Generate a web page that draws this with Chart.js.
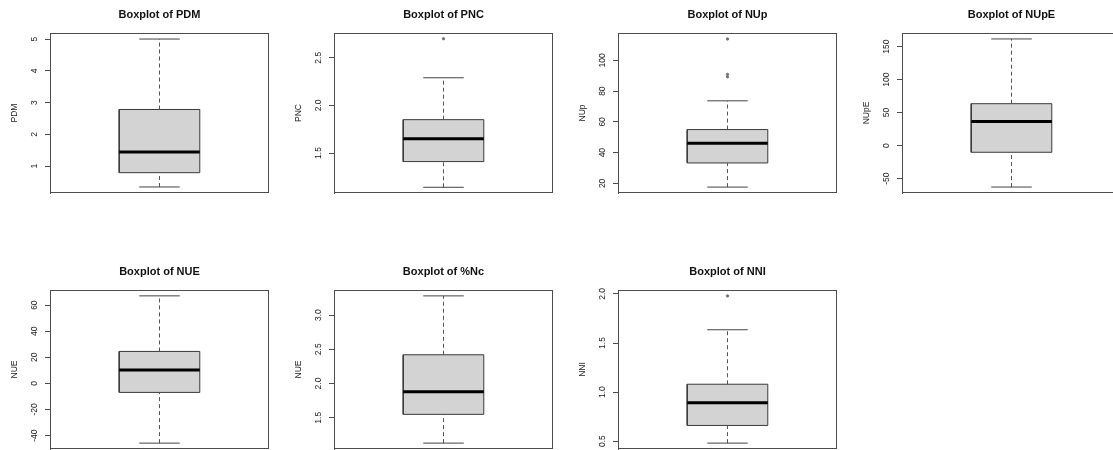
<!DOCTYPE html>
<html lang="en">
<head>
<meta charset="UTF-8" />
<title>Boxplots</title>
<script src="https://cdn.jsdelivr.net/npm/chart.js"></script>
<style>
  html, body { margin: 0; padding: 0; background: #fff; overflow: hidden; }
  body { width: 1113px; height: 450px; position: relative; }
  canvas { position: absolute; }
</style>
</head>
<body>
<script>
// values
const names = ["PDM", "PNC", "NUp", "NUpE", "NUE", "%Nc", "NNI"];
const yTitles = ["PDM", "PNC", "NUp", "NUpE", "NUE", "NUE", "NNI"];
const lowWhisker = [0.34, 1.14, 17.6, -62.8, -45.8, 1.13, 0.48];
const q1 = [0.79, 1.41, 33.3, -10.1, -6.9, 1.55, 0.66];
const median = [1.44, 1.65, 46.1, 36.5, 10.2, 1.88, 0.89];
const q3 = [2.78, 1.85, 55.0, 63.5, 24.5, 2.42, 1.08];
const highWhisker = [5.0, 2.29, 73.7, 161.6, 67.1, 3.28, 1.635];
const outliers = [[], [2.70], [113.9, 90.9, 89.3], [], [], [], [1.98]];
const yMin = [0.15, 1.08, 13.75, -71.8, -50.3, 1.044, 0.42];
const yMax = [5.19, 2.76, 117.8, 170.6, 71.6, 3.366, 2.04];
const tickValues = [
  [1, 2, 3, 4, 5],
  [1.5, 2.0, 2.5],
  [20, 40, 60, 80, 100],
  [-50, 0, 50, 100, 150],
  [-40, -20, 0, 20, 40, 60],
  [1.5, 2.0, 2.5, 3.0],
  [0.5, 1.0, 1.5, 2.0]
];
const tickLabels = [
  ["1", "2", "3", "4", "5"],
  ["1.5", "2.0", "2.5"],
  ["20", "40", "60", "80", "100"],
  ["-50", "0", "50", "100", "150"],
  ["-40", "-20", "0", "20", "40", "60"],
  ["1.5", "2.0", "2.5", "3.0"],
  ["0.5", "1.0", "1.5", "2.0"]
];

// layout
const frameLeft = [50, 334, 618, 902, 50, 334, 618];
const frameTop = [33, 33, 33, 33, 290, 290, 290];
const plotW = 219, plotH = [160, 160, 160, 160, 159, 159, 159];
const axisW = 50, titleH = 33, bottomPad = 24;
const boxHalf = 0.368, capHalf = 0.185;
const FONT = '"Liberation Sans", Arial, sans-serif';

const frame = {
  id: "frame",
  afterDraw(chart) {
    const a = chart.chartArea, c = chart.ctx;
    c.save();
    c.strokeStyle = "#4d4d4d";
    c.lineWidth = 1;
    c.strokeRect(a.left + 0.5, a.top + 0.5, a.right - a.left - 1, a.bottom - a.top - 1);
    c.restore();
  }
};

const measure = document.createElement("canvas").getContext("2d");
measure.font = "8.5px " + FONT;

names.forEach((name, i) => {
  const cv = document.createElement("canvas");
  const w = axisW + plotW + 6, h = titleH + plotH[i] + bottomPad;
  cv.width = w; cv.height = h;
  cv.style.left = (frameLeft[i] - axisW) + "px";
  cv.style.top = (frameTop[i] - titleH) + "px";
  cv.style.width = w + "px"; cv.style.height = h + "px";
  document.body.appendChild(cv);

  const widest = Math.max(...tickLabels[i].map(t => measure.measureText(t).width));
  const tickPad = Math.max(0, 10.5 - widest / 2);

  const line = (pts, extra) => Object.assign({
    data: pts, showLine: true, pointRadius: 0, borderColor: "#333", borderWidth: 1, fill: false
  }, extra);

  new Chart(cv, {
    type: "scatter",
    data: {
      datasets: [
        // lower order is drawn on top
        line([{x: -boxHalf, y: q1[i]}, {x: boxHalf, y: q1[i]}, {x: boxHalf, y: q3[i]},
              {x: -boxHalf, y: q3[i]}, {x: -boxHalf, y: q1[i]}],
             {fill: "shape", backgroundColor: "#d3d3d3", borderColor: "#3a3a3a", order: 5}),
        line([{x: 0, y: q3[i]}, {x: 0, y: highWhisker[i]}], {borderDash: [4, 3], borderColor: "#555", order: 3}),
        line([{x: 0, y: lowWhisker[i]}, {x: 0, y: q1[i]}], {borderDash: [4, 3], borderColor: "#555", order: 3}),
        line([{x: -capHalf, y: highWhisker[i]}, {x: capHalf, y: highWhisker[i]}], {borderColor: "#444", order: 2}),
        line([{x: -capHalf, y: lowWhisker[i]}, {x: capHalf, y: lowWhisker[i]}], {borderColor: "#444", order: 2}),
        line([{x: -boxHalf, y: median[i]}, {x: boxHalf, y: median[i]}], {borderColor: "#000", borderWidth: 3, order: 1}),
        {
          data: outliers[i].map(v => ({x: 0, y: v})),
          showLine: false, pointRadius: 1.2, pointBorderWidth: 0.8, order: 0,
          pointBackgroundColor: "#777", pointBorderColor: "#666"
        }
      ]
    },
    options: {
      responsive: false,
      animation: false,
      devicePixelRatio: 1,
      layout: { padding: { left: 0, top: 0, right: 6, bottom: bottomPad } },
      scales: {
        x: { type: "linear", display: false, min: -1, max: 1 },
        y: {
          type: "linear",
          min: yMin[i], max: yMax[i],
          afterBuildTicks: s => { s.ticks = tickValues[i].map(v => ({value: v})); },
          afterFit: s => { s.width = axisW; },
          border: { display: true, color: "#4d4d4d" },
          grid: { drawOnChartArea: false, drawTicks: true, tickLength: 5, color: "#4d4d4d" },
          ticks: {
            callback: (v, k) => tickLabels[i][k],
            minRotation: 90, maxRotation: 90,
            crossAlign: "center",
            padding: tickPad,
            color: "#222",
            font: { family: FONT, size: 8.5 }
          },
          title: {
            display: true, text: yTitles[i], color: "#222",
            font: { family: FONT, size: 8.5 },
            padding: { top: 9.4, bottom: 0 }
          }
        }
      },
      plugins: {
        legend: { display: false },
        tooltip: { enabled: false },
        title: {
          display: true, text: "Boxplot of " + name, fullSize: false,
          color: "#111",
          font: { family: FONT, size: 11, weight: "bold" },
          padding: { top: 7.9, bottom: 11.9 }
        }
      }
    },
    plugins: [frame]
  });
});
</script>
</body>
</html>
